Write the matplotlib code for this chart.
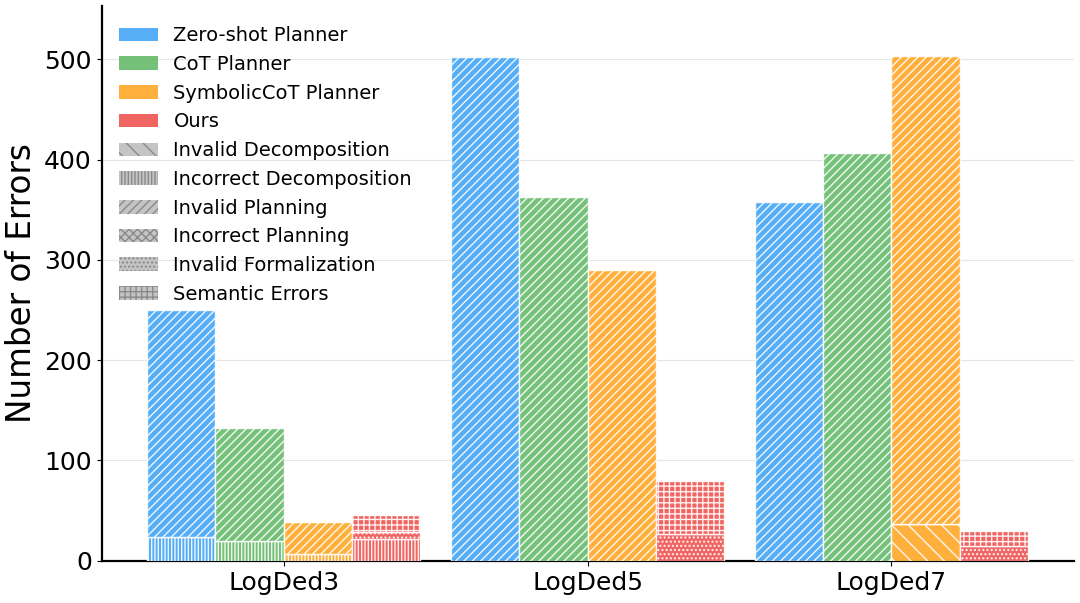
import matplotlib
matplotlib.use("Agg")
import matplotlib.pyplot as plt
from matplotlib.patches import Patch
import numpy as np

categories = ["LogDed3", "LogDed5", "LogDed7"]
methods = ["Zero-shot Planner", "CoT Planner", "SymbolicCoT Planner", "Ours"]
error_types = ["Invalid Decomposition", "Incorrect Decomposition", "Invalid Planning",
               "Incorrect Planning", "Invalid Formalization", "Semantic Errors"]

# stacked segments (bottom to top) per method
zero_shot_incorrect_decomp = [24, 0, 0]
zero_shot_invalid_planning = [226, 502, 358]
cot_incorrect_decomp = [20, 0, 0]
cot_invalid_planning = [112, 363, 406]
symcot_invalid_decomp = [0, 0, 37]
symcot_incorrect_decomp = [7, 0, 0]
symcot_invalid_planning = [32, 290, 466]
ours_incorrect_decomp = [22, 0, 0]
ours_invalid_formalization = [7, 27, 15]
ours_semantic_errors = [17, 53, 15]

colors = ["#42A5F5", "#66BB6A", "#FFA726", "#EF5350"]
hatches = {"Invalid Decomposition": "\\\\", "Incorrect Decomposition": "|||||",
           "Invalid Planning": "////", "Incorrect Planning": "xxxx",
           "Invalid Formalization": "....", "Semantic Errors": "+++"}

stacks = [
    [("Incorrect Decomposition", zero_shot_incorrect_decomp), ("Invalid Planning", zero_shot_invalid_planning)],
    [("Incorrect Decomposition", cot_incorrect_decomp), ("Invalid Planning", cot_invalid_planning)],
    [("Invalid Decomposition", symcot_invalid_decomp), ("Incorrect Decomposition", symcot_incorrect_decomp),
     ("Invalid Planning", symcot_invalid_planning)],
    [("Incorrect Decomposition", ours_incorrect_decomp), ("Invalid Formalization", ours_invalid_formalization),
     ("Semantic Errors", ours_semantic_errors)],
]

fig, ax = plt.subplots(figsize=(10.8, 6.03), dpi=100)
fig.subplots_adjust(left=0.094, right=0.994, top=0.99, bottom=0.07)

x = np.arange(len(categories))
width = 0.225
offsets = (np.arange(len(methods)) - 1.5) * width

for mi, (col, segs) in enumerate(zip(colors, stacks)):
    bottom = np.zeros(len(categories))
    for etype, vals in segs:
        vals = np.array(vals, dtype=float)
        ax.bar(x + offsets[mi], vals, width, bottom=bottom, color=col, alpha=0.9,
               edgecolor="white", hatch=hatches[etype], linewidth=1.0, zorder=3)
        bottom += vals

ax.set_xlim(-0.6, 2.6)
ax.set_ylim(0, 553)
ax.set_xticks(x)
ax.set_xticklabels(categories, fontsize=18)
ax.set_yticks([0, 100, 200, 300, 400, 500])
ax.tick_params(axis="y", labelsize=18)
ax.set_ylabel("Number of Errors", fontsize=23.5)
ax.grid(axis="y", color="#e6e6e6", linewidth=0.8, zorder=0)
ax.set_axisbelow(True)
for s in ["top", "right"]:
    ax.spines[s].set_visible(False)
for s in ["left", "bottom"]:
    ax.spines[s].set_linewidth(1.6)

handles = [Patch(facecolor=c, alpha=0.9, linewidth=0, label=m) for c, m in zip(colors, methods)]
handles += [Patch(facecolor="#c4c4c4", edgecolor="#8a8a8a", linewidth=0, hatch=hatches[e], label=e)
            for e in error_types]
ax.legend(handles=handles, loc="upper left", frameon=False, fontsize=14,
          bbox_to_anchor=(0.0, 0.995))

fig.savefig("out.png", dpi=100)
